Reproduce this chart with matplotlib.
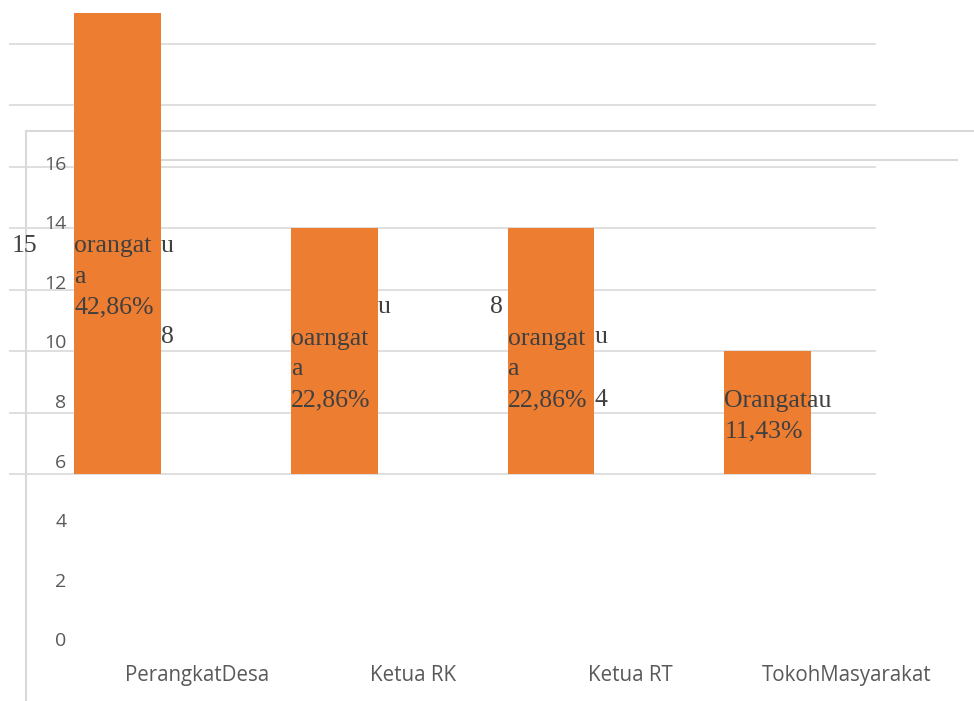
import numpy as np
import matplotlib
matplotlib.use("Agg")
import matplotlib.pyplot as plt

# ---- data ----
categories = ["PerangkatDesa", "Ketua RK", "Ketua RT", "TokohMasyarakat"]
counts = [15, 8, 8, 4]
percents = ["42,86%", "22,86%", "22,86%", "11,43%"]
y_ticks = [0, 2, 4, 6, 8, 10, 12, 14, 16]
grid_values = [0, 2, 4, 6, 8, 10, 12, 14]

W, H = 974, 701
fig = plt.figure(figsize=(W / 100, H / 100), dpi=100)

# px helpers (for axis limits only)
px_per_cat = 216.67
x0_px = 117.5
base_px = 474.0
px_per_unit = 30.73

ax = fig.add_axes([0, 0, 1, 1])
ax.set_xlim((0 - x0_px) / px_per_cat, (W - x0_px) / px_per_cat)
ax.set_ylim((base_px - H) / px_per_unit, base_px / px_per_unit)
ax.axis("off")

grid_c = "#D9D9D9"
orange = "#ED7D31"
lab_c = "#404040"
tick_c = "#595959"

x = np.arange(len(categories))
ax.hlines(grid_values, -0.5, 3.5, color=grid_c, lw=1.2, zorder=1)
ax.bar(x, counts, width=0.4, color=orange, zorder=3)

# decorative frame lines (figure fraction)
ax.plot([26 / W, 1.0], [1 - 131 / H, 1 - 131 / H], transform=fig.transFigure,
        color=grid_c, lw=1.5, zorder=2, clip_on=False)
ax.plot([161 / W, 957 / W], [1 - 160 / H, 1 - 160 / H], transform=fig.transFigure,
        color=grid_c, lw=1.5, zorder=2, clip_on=False)
ax.plot([26 / W, 26 / W], [1 - 131 / H, 0.0], transform=fig.transFigure,
        color=grid_c, lw=1.5, zorder=2, clip_on=False)

# misaligned value axis
tick0_px = 639.5
tick_px_per_unit = 29.8
ax2 = fig.add_axes([70 / W, 0, 0.001, 1])
ax2.set_ylim((tick0_px - H) / tick_px_per_unit, tick0_px / tick_px_per_unit)
ax2.set_yticks(y_ticks)
ax2.set_yticklabels([str(v) for v in y_ticks], fontfamily="Open Sans",
                    fontsize=14, color=tick_c)
ax2.tick_params(axis="y", length=0, pad=2.5)
ax2.set_xticks([])
for s in ax2.spines.values():
    s.set_visible(False)
ax2.patch.set_visible(False)

# category labels
for i, c in enumerate(categories):
    ax.text(i + 0.365, -6.57, c, ha="center", va="center", fontfamily="Open Sans",
            fontsize=14.8, color=tick_c, zorder=5)

# data labels (fragmented as in source)
serif = dict(fontfamily="Liberation Serif", fontsize=18.5, color=lab_c, zorder=5,
             va="baseline")
bw = 0.2
# bar 1
ax.text(0 - 0.49, 7.22, str(counts[0]), ha="left", **serif)
ax.text(0 - bw, 7.22, "orangat", ha="left", **serif)
ax.text(0 + bw, 7.22, "u", ha="left", **serif)
ax.text(0 - bw, 6.22, "a", ha="left", **serif)
ax.text(0 - bw, 5.21, percents[0], ha="left", **serif)
ax.text(0 + bw, 4.26, str(counts[1]), ha="left", **serif)
# bar 2
ax.text(1 + bw, 5.24, "u", ha="left", **serif)
ax.text(1 - bw, 4.20, "oarngat", ha="left", **serif)
ax.text(1 - bw, 3.22, "a", ha="left", **serif)
ax.text(1 - bw, 2.21, percents[1], ha="left", **serif)
# bar 3
ax.text(2 - 0.22, 5.24, str(counts[2]), ha="right", **serif)
ax.text(2 - bw, 4.20, "orangat", ha="left", **serif)
ax.text(2 + bw, 4.26, "u", ha="left", **serif)
ax.text(2 - bw, 3.22, "a", ha="left", **serif)
ax.text(2 - bw, 2.21, percents[2], ha="left", **serif)
ax.text(2 + bw, 2.21, str(counts[3]), ha="left", **serif)
# bar 4
ax.text(3 - bw, 2.18, "Orangatau", ha="left", **serif)
ax.text(3 - bw, 1.20, percents[3], ha="left", **serif)

fig.savefig("out.png", dpi=100)
